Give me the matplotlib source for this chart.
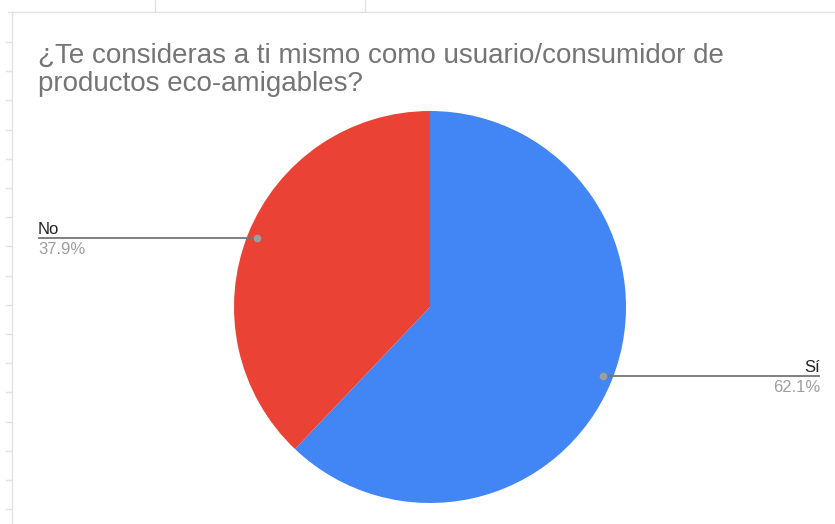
import matplotlib
matplotlib.use('Agg')
import matplotlib.pyplot as plt
import numpy as np

# Datos de la encuesta
categorias = ['Sí', 'No']
porcentajes = [62.1, 37.9]
colores = ['#4285F4', '#EA4335']
titulo = ['¿Te consideras a ti mismo como usuario/consumidor de',
          'productos eco-amigables?']

W, H = 835, 524
fig = plt.figure(figsize=(W / 100, H / 100), dpi=100)
ax = fig.add_axes([0, 0, 1, 1])

# bordes de la hoja de cálculo detrás del gráfico
gris = '#e2e2e2'
ax.plot([8, W], [H - 12, H - 12], color=gris, lw=1)
for xv in (155, 365):
    ax.plot([xv, xv], [H, H - 12], color=gris, lw=1)
ax.plot([12, 12], [0, H - 12], color=gris, lw=1)
for yv in np.arange(42, H, 29.2):
    ax.plot([6, 12], [H - yv, H - yv], color=gris, lw=1)

# pastel
cx, cy, r = 430, H - 307, 196
ax.pie(porcentajes, colors=colores, startangle=90, counterclock=False,
       center=(cx, cy), radius=r, frame=True,
       wedgeprops=dict(linewidth=0))
ax.set_xlim(0, W)
ax.set_ylim(0, H)
ax.set_aspect('equal')
ax.axis('off')

fuente = 'Liberation Sans'
for linea, yb in zip(titulo, (63, 91)):
    ax.text(38, H - yb, linea, fontsize=20, color='#757575', family=fuente,
            va='baseline', ha='left')

# etiquetas con líneas guía
inicio = 90
for cat, val in zip(categorias, porcentajes):
    ang = inicio - val * 360 / 100 / 2
    inicio -= val * 360 / 100
    px = cx + 0.95 * r * np.cos(np.radians(ang))
    py = cy + 0.95 * r * np.sin(np.radians(ang))
    if px < cx:
        x0, ha = 38, 'left'
    else:
        x0, ha = 820, 'right'
    ax.plot([x0, px], [py, py], color='#757575', lw=1.3, solid_capstyle='butt')
    ax.plot(px, py, 'o', color='#9e9e9e', ms=4.5)
    ax.text(x0, py + 4, cat, fontsize=12, color='#222222', family=fuente,
            ha=ha, va='baseline')
    ax.text(x0, py - 16, f'{val}%', fontsize=12, color='#9e9e9e', family=fuente,
            ha=ha, va='baseline')

fig.savefig('out.png', dpi=100)
